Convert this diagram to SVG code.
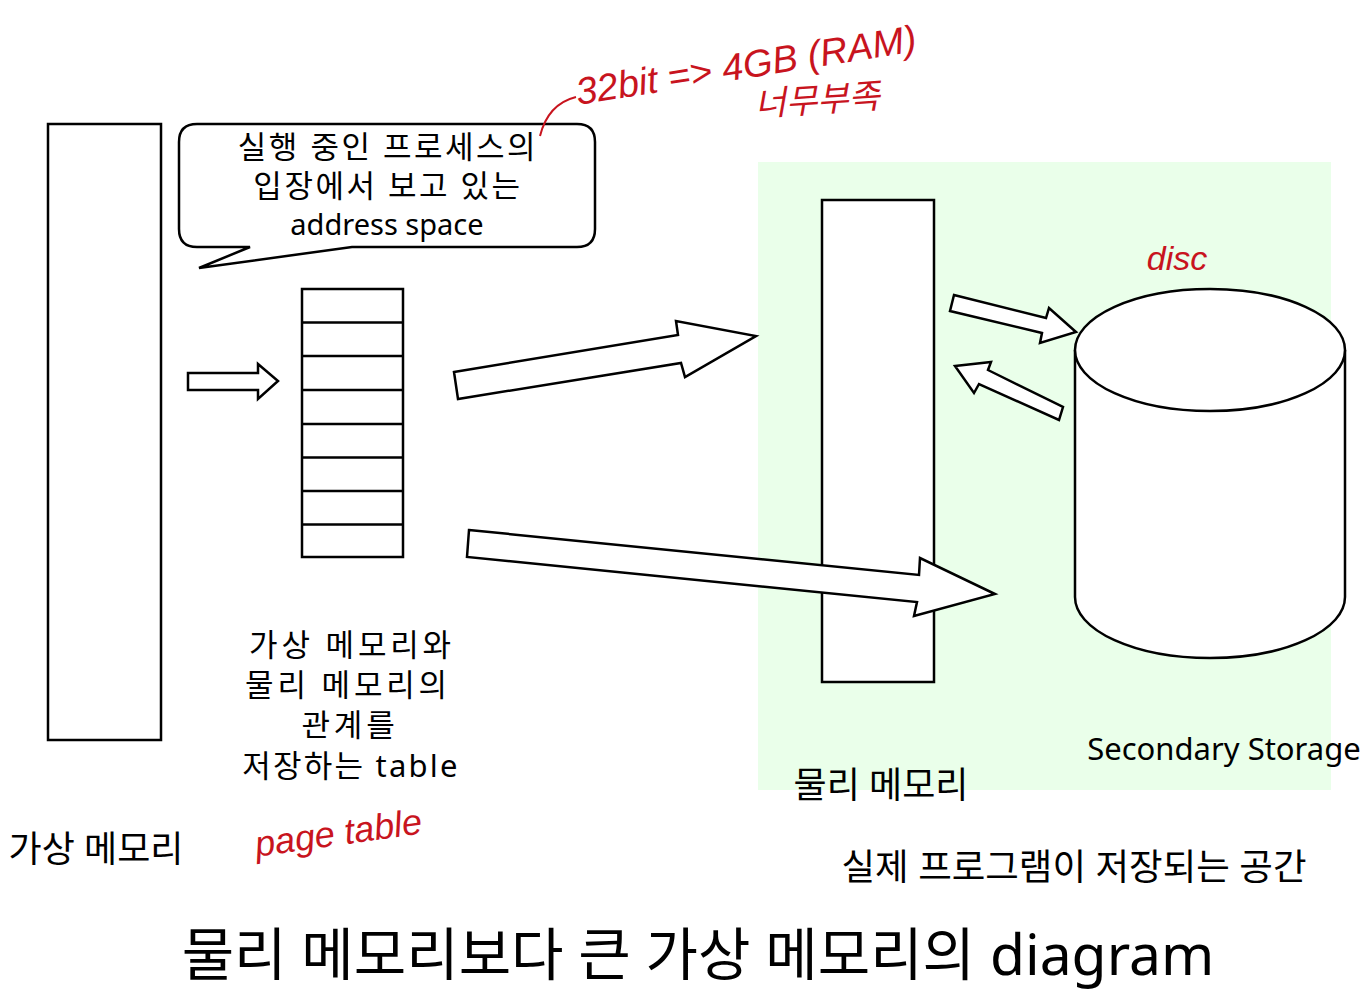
<svg xmlns="http://www.w3.org/2000/svg" width="1372" height="999" viewBox="0 0 1372 999">
<style>
.box{fill:#fff;stroke:#000;stroke-width:2.5}
.arr{fill:#fff;stroke:#000;stroke-width:2.5;stroke-linejoin:miter}
.t{font-family:"Noto Sans","Noto Sans CJK KR",sans-serif;fill:#000;text-anchor:middle}
.hw{font-family:"Liberation Sans","Noto Sans CJK KR",sans-serif;font-style:italic;fill:#c8141e;text-anchor:middle}
</style>
<rect width="1372" height="999" fill="#fff"/>
<rect x="758" y="162" width="573" height="628" fill="#eaffea"/>

<g id="virtual-memory">
<rect class="box" x="48" y="124" width="113" height="616"/>
<text class="t" x="96" y="862" font-size="36">가상 메모리</text>
</g>

<g id="callout">
<path class="box" d="M197,124 H577 Q595,124 595,142 V229 Q595,247 577,247 H352 L199,268 L250,247 H197 Q179,247 179,229 V142 Q179,124 197,124 Z"/>
<text class="t" x="388" y="158" font-size="31" letter-spacing="2.5">실행 중인 프로세스의</text>
<text class="t" x="388" y="197" font-size="31" letter-spacing="2.5">입장에서 보고 있는</text>
<text class="t" x="387" y="235" font-size="29">address space</text>
</g>

<g id="page-table">
<rect class="box" x="302" y="289" width="101" height="268"/>
<path d="M302,322.5H403M302,356H403M302,390H403M302,424H403M302,457.5H403M302,491H403M302,524.5H403" stroke="#000" stroke-width="2.5"/>
<text class="t" x="352" y="656" font-size="31" letter-spacing="3.8">가상 메모리와</text>
<text class="t" x="348" y="696" font-size="31" letter-spacing="3.8">물리 메모리의</text>
<text class="t" x="350" y="736" font-size="31" letter-spacing="3.8">관계를</text>
<text class="t" x="351" y="777" font-size="31" letter-spacing="2.2">저장하는 table</text>
</g>

<g id="physical-memory">
<rect class="box" x="822" y="200" width="112" height="482"/>
<text class="t" x="881" y="798" font-size="36">물리 메모리</text>
</g>

<g id="secondary-storage">
<path class="box" d="M1075,350 V597 A135,61 0 0 0 1345,597 V350"/>
<ellipse class="box" cx="1210" cy="350" rx="135" ry="61"/>
<text class="t" x="1224" y="760" font-size="31">Secondary Storage</text>
</g>

<g id="connectors">
<path class="arr" d="M188,373 H258 V364 L278,381 L258,399 V390 H188 Z"/>
<path class="arr" d="M454,372 L678,335 L676,321 L756,336 L685,377 L681,363 L458,399 Z"/>
<path class="arr" d="M469,530 L919,575 L920,558 L995,594 L914,616 L917,602 L467,557 Z"/>
<path class="arr" d="M954,295 L1046,318 L1049,308 L1076,332 L1040,343 L1042,333 L950,311 Z"/>
<path class="arr" d="M955,366 L991,362 L988,370 L1063,407 L1059,420 L979,384 L974,393 Z"/>
</g>

<text class="t" x="1074" y="880" font-size="36.5">실제 프로그램이 저장되는 공간</text>
<text class="t" x="698" y="975" font-size="57">물리 메모리보다 큰 가상 메모리의 diagram</text>

<g id="annotations">
<path d="M540,136 Q548,104 576,97" fill="none" stroke="#c8141e" stroke-width="2"/>
<text class="hw" x="748" y="78" font-size="38" transform="rotate(-9 748 78)">32bit =&gt; 4GB (RAM)</text>
<text class="hw" x="818" y="112" font-size="34" transform="rotate(-4 818 112)">너무부족</text>
<text class="hw" x="1177" y="270" font-size="34">disc</text>
<text class="hw" x="340" y="845" font-size="36" transform="rotate(-8 340 845)">page table</text>
</g>
</svg>
